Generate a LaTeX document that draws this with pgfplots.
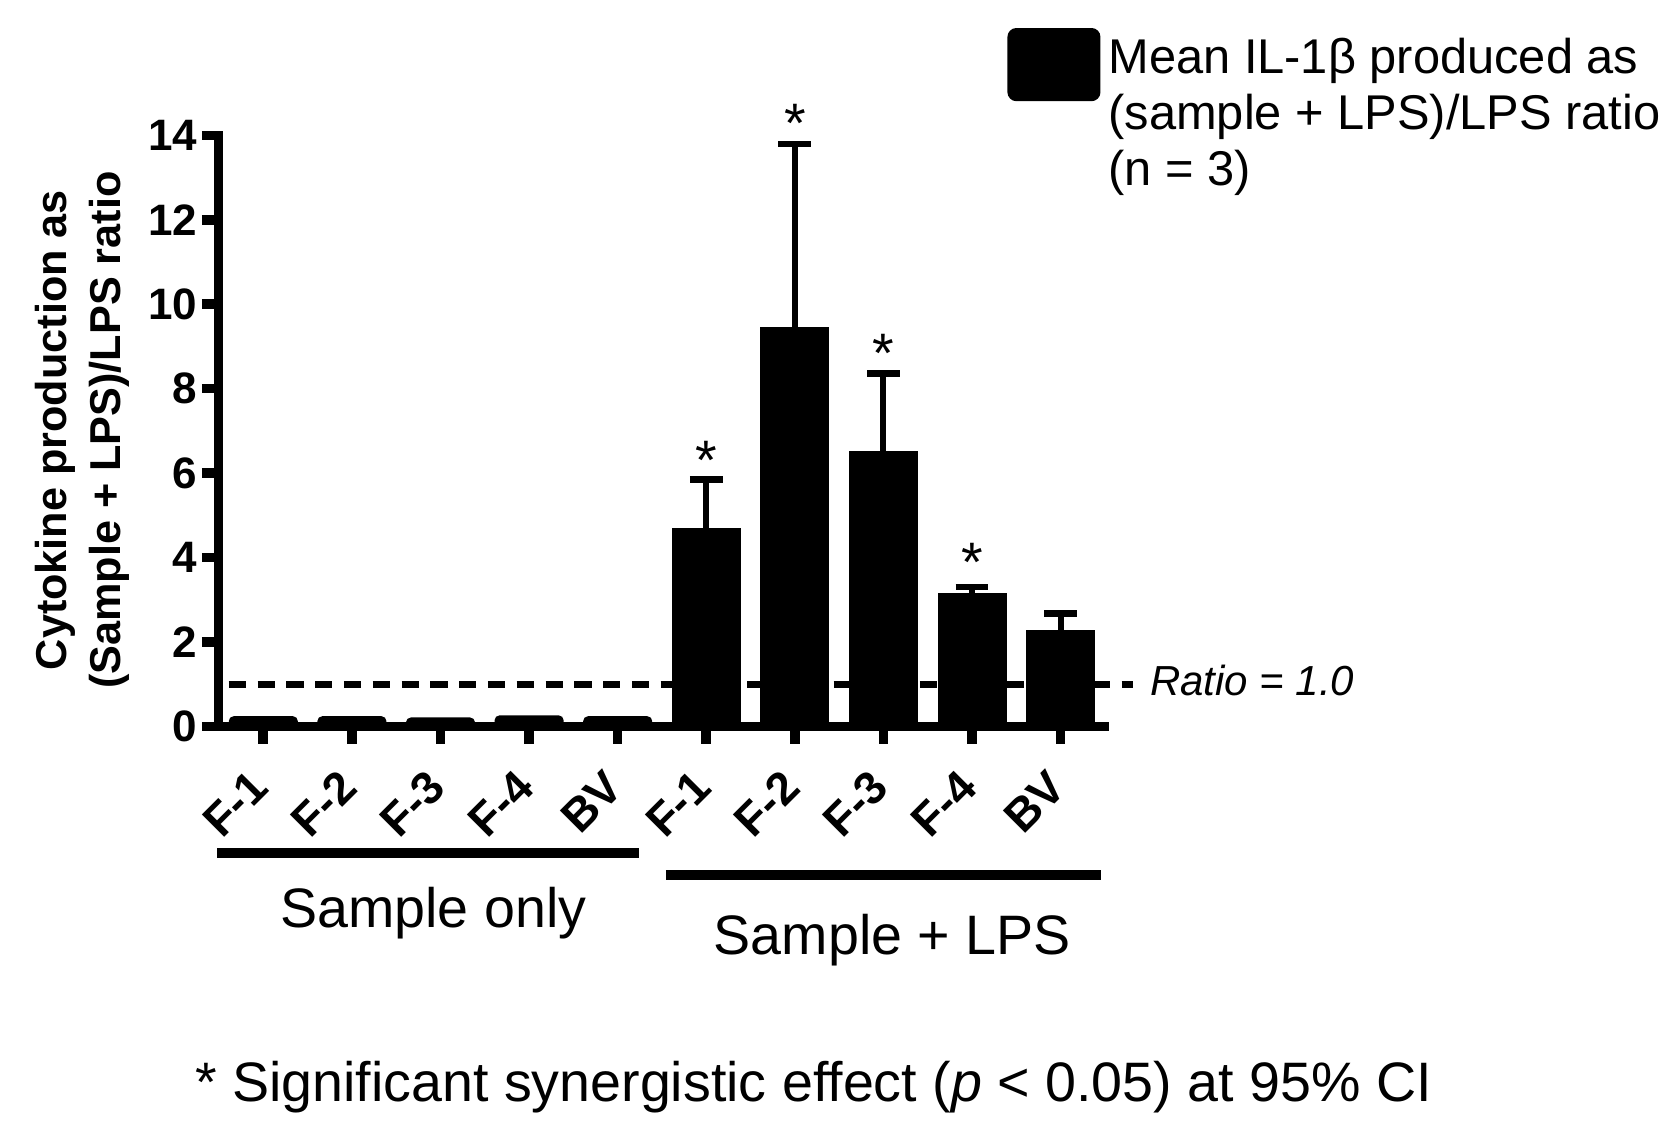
\documentclass[border=0pt]{standalone}
\usepackage{fontspec}
\setmainfont{Liberation Sans}
\usepackage{pgfplots}
\pgfplotsset{compat=1.18}
\newcommand\fs[2]{\fontsize{#1}{#2}\selectfont}
\begin{document}
\begin{tikzpicture}
\useasboundingbox (-54.75pt,-99.875pt) rectangle (365.25pt,181.625pt);
\begin{axis}[
  at={(0,0)}, anchor=south west, scale only axis,
  width=221.5pt, height=147.8pt,
  xmin=-0.5, xmax=9.5, ymin=0, ymax=14,
  axis x line*=bottom, axis y line*=left,
  axis line style={line width=2.25pt, -, line cap=rect},
  xtick={0,...,9},
  xticklabels={F-1,F-2,F-3,F-4,BV,F-1,F-2,F-3,F-4,BV},
  ytick={0,2,...,14},
  tick align=outside, major tick length=4.3pt,
  tick style={line width=2.4pt, black},
  /pgf/number format/assume math mode=true,
  yticklabel style={font=\bfseries\fs{11}{13}, inner sep=0pt, xshift=-1pt},
  xticklabel style={font=\bfseries\fs{11.5}{13}, xshift=1.6pt, yshift=-6.4pt, rotate=45, anchor=east},
  clip=false,
  legend style={at={(axis cs:8.39,16.56)}, anchor=north west, draw=none, fill=none,
    inner sep=0pt, font=\fs{12.2}{14}, cells={align=left, anchor=west},
    /tikz/every even column/.style={column sep=2.5pt}},
]
\addplot[ybar, bar width=16.75pt, fill=black, draw=black, line width=0.5pt, rounded corners=1pt, forget plot]
  coordinates {(0,0.22) (1,0.22) (2,0.19) (3,0.24) (4,0.22)};
\addplot[ybar, bar width=16.75pt, fill=black, draw=black, line width=0.5pt,
  legend image code/.code={\fill[black, rounded corners=2pt] (0pt,3.6pt) rectangle (22.75pt,21.4pt);},
  error bars/.cd, y dir=plus, y explicit,
  error bar style={line width=1.5pt, black},
  error mark options={rotate=90, mark size=4.1pt, line width=1.6pt, black}]
  coordinates {(5,4.67) +- (0,1.18) (6,9.43) +- (0,4.36) (7,6.51) +- (0,1.85) (8,3.14) +- (0,0.16) (9,2.26) +- (0,0.42)};
\addlegendentry{Mean IL-1β produced as\\(sample + LPS)/LPS ratio\\(n = 3)}
\addplot[black, line width=1.65pt, dash pattern=on 4.3pt off 2.9pt, forget plot]
  coordinates {(-0.39,1) (9.82,1)};
\node[font=\fs{13.9}{16}, anchor=base, inner sep=0pt] at (axis cs:5,5.84) {*};
\node[font=\fs{13.9}{16}, anchor=base, inner sep=0pt] at (axis cs:6,13.84) {*};
\node[font=\fs{13.9}{16}, anchor=base, inner sep=0pt] at (axis cs:7,8.39) {*};
\node[font=\fs{13.9}{16}, anchor=base, inner sep=0pt] at (axis cs:8,3.43) {*};
\node[anchor=base west, font=\itshape\fs{10.5}{12}, inner sep=0pt] at (axis cs:10.0,0.73) {Ratio = 1.0};
\node[rotate=90, align=center, font=\bfseries\fs{10.8}{13.4}] at (axis cs:-2.045,7.02) {Cytokine production as\\(Sample + LPS)/LPS ratio};
\draw[line width=2.4pt] (axis cs:-0.52,-2.995) -- (axis cs:4.246,-2.995);
\draw[line width=2.4pt] (axis cs:4.545,-3.52) -- (axis cs:9.455,-3.52);
\node[anchor=base, font=\fs{13.9}{16}, inner sep=0pt] at (axis cs:1.92,-4.77) {Sample only};
\node[anchor=base, font=\fs{13.9}{16}, inner sep=0pt] at (axis cs:7.1,-5.4) {Sample + LPS};
\node[anchor=base, font=\fs{13.9}{16}, inner sep=0pt] at (axis cs:6.21,-8.87) {* Significant synergistic effect (\textit{p} < 0.05) at 95\% CI};
\end{axis}
\end{tikzpicture}
\end{document}
